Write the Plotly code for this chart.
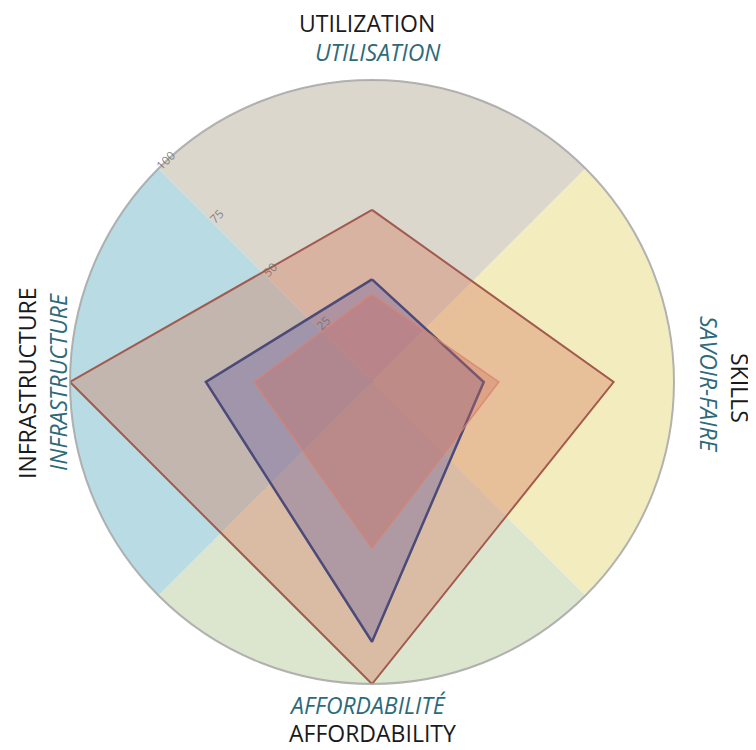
import plotly.graph_objects as go

axes_en = ["UTILIZATION", "SKILLS", "AFFORDABILITY", "INFRASTRUCTURE"]
axes_fr = ["UTILISATION", "SAVOIR-FAIRE", "AFFORDABILITÉ", "INFRASTRUCTURE"]
theta_deg = [0, 90, 180, 270]

sector_colors = ["#dcd7cc", "#f3ecbf", "#dce6cf", "#b9dbe3"]
sector_r = [100, 100, 100, 100]

series_large = [57, 80, 100, 100]
series_blue = [34, 37, 86, 55]
series_inner = [29, 42, 55, 39]

radial_ticks = [25, 50, 75, 100]

# page body has an 8px margin; figure sized to fill the rest of the window
OFF = 8
W, H = 756 - OFF, 750 - OFF
CX, CY, R = 372 - OFF, 382 - OFF, 302

fig = go.Figure()

fig.add_trace(go.Barpolar(
    r=sector_r, theta=theta_deg, width=[90] * 4,
    marker=dict(color=sector_colors, line=dict(width=0)),
    hoverinfo="skip", showlegend=False,
))


def closed(v):
    return v + [v[0]]


fig.add_trace(go.Scatterpolar(
    r=closed(series_large), theta=closed(theta_deg), mode="lines",
    fill="toself", fillcolor="rgba(214,120,92,0.38)",
    line=dict(color="#a35a4e", width=2), showlegend=False,
))
fig.add_trace(go.Scatterpolar(
    r=closed(series_blue), theta=closed(theta_deg), mode="lines",
    fill="toself", fillcolor="rgba(100,92,160,0.36)",
    line=dict(color="#4b4a78", width=2.5), showlegend=False,
))
fig.add_trace(go.Scatterpolar(
    r=closed(series_inner), theta=closed(theta_deg), mode="lines",
    fill="toself", fillcolor="rgba(205,110,95,0.35)",
    line=dict(color="rgba(215,130,115,0.8)", width=1.5), showlegend=False,
))

fig.update_layout(
    width=W, height=H,
    margin=dict(l=0, r=0, t=0, b=0),
    paper_bgcolor="white",
    polar=dict(
        domain=dict(x=[(CX - R) / W, (CX + R) / W],
                    y=[1 - (CY + R) / H, 1 - (CY - R) / H]),
        bgcolor="rgba(0,0,0,0)",
        angularaxis=dict(
            direction="clockwise", rotation=90,
            tickmode="array", tickvals=theta_deg, showticklabels=False,
            ticks="", showgrid=True, gridcolor="rgba(140,130,120,0.5)",
            gridwidth=1.5, linecolor="rgba(160,160,160,0.8)", linewidth=2,
            layer="above traces",
        ),
        radialaxis=dict(
            range=[0, 100], tickmode="array", tickvals=radial_ticks,
            ticktext=[str(t) for t in radial_ticks],
            angle=135, tickangle=90, showline=False, ticks="",
            tickfont=dict(size=12, color="rgba(110,110,110,0.8)", family="Open Sans"),
            showgrid=True, gridcolor="rgba(140,130,120,0.45)", gridwidth=1.5,
            layer="above traces",
        ),
    ),
)

black = "#1a1a1a"
teal = "#2d6a7a"
fsize = 23
fam = "Open Sans"

ann = [
    dict(x=367, y=23, text=axes_en[0], color=black, angle=0, italic=False),
    dict(x=378, y=52, text=axes_fr[0], color=teal, angle=0, italic=True),
    dict(x=740, y=388, text=axes_en[1], color=black, angle=90, italic=False),
    dict(x=709, y=384, text=axes_fr[1], color=teal, angle=90, italic=True),
    dict(x=372, y=733, text=axes_en[2], color=black, angle=0, italic=False),
    dict(x=367, y=705, text=axes_fr[2], color=teal, angle=0, italic=True),
    dict(x=27, y=383, text=axes_en[3], color=black, angle=-90, italic=False),
    dict(x=58, y=382, text=axes_fr[3], color=teal, angle=-90, italic=True),
]
for a in ann:
    fig.add_annotation(
        x=(a["x"] - OFF) / W, y=1 - (a["y"] - OFF) / H, xref="paper", yref="paper",
        text=a["text"], showarrow=False, textangle=a["angle"],
        xanchor="center", yanchor="middle",
        font=dict(size=fsize, color=a["color"], family=fam,
                  style="italic" if a["italic"] else "normal"),
    )

fig.write_html("out.html")
